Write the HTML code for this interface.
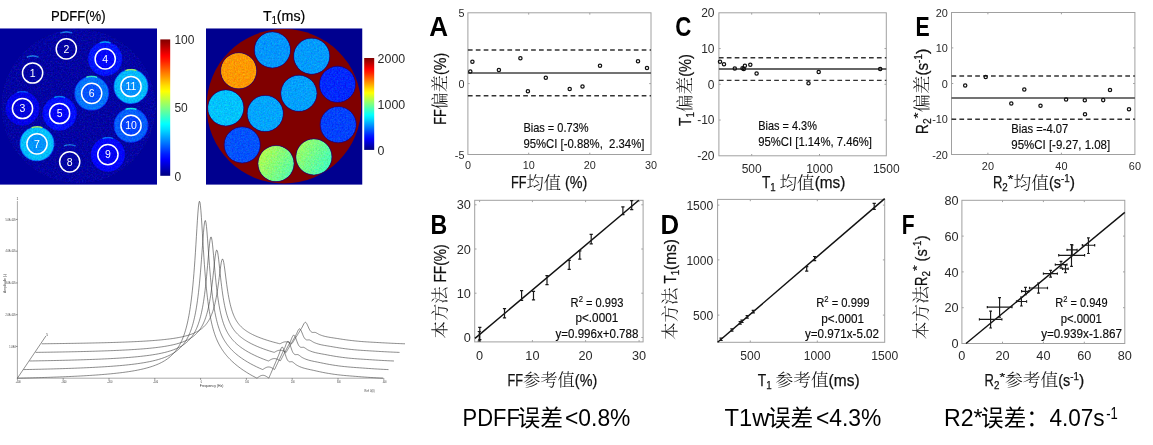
<!DOCTYPE html>
<html lang="zh"><head><meta charset="utf-8"><title>Phantom validation</title>
<style>html,body{margin:0;padding:0;background:#fff;}body{width:1153px;height:445px;overflow:hidden;}svg{display:block;}text{font-family:"Liberation Sans", "Noto Sans CJK SC", sans-serif;fill:#262626;}.tk{fill:#2a2a2a;}.ann{font-size:12.2px;fill:#0a0a0a;stroke:#0a0a0a;stroke-width:0.15px;}.lat{fill:#111;stroke:#111;stroke-width:0.25px;}.cjk{font-family:"Liberation Sans","Noto Serif CJK SC",serif;font-weight:300;fill:#111;}.big{fill:#000;}.bigc{font-family:"Liberation Sans","Noto Sans CJK SC",sans-serif;fill:#000;}.pl{font-weight:bold;fill:#000;}.tiny{font-size:3.2px;fill:#333;}</style></head><body>
<svg width="1153" height="445" viewBox="0 0 1153 445">
<rect x="0" y="0" width="1153" height="445" fill="#ffffff"/>
<defs>
<linearGradient id="jet" x1="0" y1="1" x2="0" y2="0"><stop offset="0" stop-color="#000080"/><stop offset="0.03" stop-color="#00009f"/><stop offset="0.06" stop-color="#0000bf"/><stop offset="0.09" stop-color="#0000df"/><stop offset="0.12" stop-color="#0000ff"/><stop offset="0.16" stop-color="#0020ff"/><stop offset="0.19" stop-color="#0040ff"/><stop offset="0.22" stop-color="#0060ff"/><stop offset="0.25" stop-color="#0080ff"/><stop offset="0.28" stop-color="#009fff"/><stop offset="0.31" stop-color="#00bfff"/><stop offset="0.34" stop-color="#00dfff"/><stop offset="0.38" stop-color="#00ffff"/><stop offset="0.41" stop-color="#20ffdf"/><stop offset="0.44" stop-color="#40ffbf"/><stop offset="0.47" stop-color="#60ff9f"/><stop offset="0.5" stop-color="#80ff80"/><stop offset="0.53" stop-color="#9fff60"/><stop offset="0.56" stop-color="#bfff40"/><stop offset="0.59" stop-color="#dfff20"/><stop offset="0.62" stop-color="#ffff00"/><stop offset="0.66" stop-color="#ffdf00"/><stop offset="0.69" stop-color="#ffbf00"/><stop offset="0.72" stop-color="#ff9f00"/><stop offset="0.75" stop-color="#ff8000"/><stop offset="0.78" stop-color="#ff6000"/><stop offset="0.81" stop-color="#ff4000"/><stop offset="0.84" stop-color="#ff2000"/><stop offset="0.88" stop-color="#ff0000"/><stop offset="0.91" stop-color="#df0000"/><stop offset="0.94" stop-color="#bf0000"/><stop offset="0.97" stop-color="#9f0000"/><stop offset="1" stop-color="#800000"/></linearGradient>
<clipPath id="cpP"><rect x="0" y="28.3" width="157" height="156.5"/></clipPath>
<clipPath id="cpT"><rect x="206" y="28.3" width="156.5" height="156.5"/></clipPath>
<filter id="nz" x="-2%" y="-2%" width="104%" height="104%" color-interpolation-filters="sRGB"><feTurbulence type="fractalNoise" baseFrequency="0.62" numOctaves="2" seed="7" result="n"/><feColorMatrix in="n" type="matrix" values="1 0 0 0 0  0 1 0 0 0  0 0 1 0 0  0 0 0 0 1" result="n1"/><feComposite in="SourceGraphic" in2="n1" operator="arithmetic" k1="0" k2="1" k3="0.34" k4="-0.17" result="c"/><feComposite in="c" in2="SourceGraphic" operator="in"/></filter>
<linearGradient id="gv8" x1="0" y1="0.2" x2="1" y2="0.8"><stop offset="0" stop-color="#b8ff47"/><stop offset="1" stop-color="#52ffad"/></linearGradient>
<linearGradient id="gv9" x1="0" y1="0.2" x2="1" y2="0.8"><stop offset="0" stop-color="#a3ff5c"/><stop offset="1" stop-color="#3dffc2"/></linearGradient>
</defs>
<g id="pdff">
<text x="78.3" y="21.2" text-anchor="middle" font-size="15.4" textLength="54.6" lengthAdjust="spacingAndGlyphs" style="fill:#000;stroke:#000;stroke-width:0.2px">PDFF(%)</text>
<g clip-path="url(#cpP)">
<rect x="0" y="28.3" width="157" height="156.5" fill="#00009c"/>
<circle cx="78.5" cy="106.3" r="77" fill="#0000a3" stroke="#0000b8" stroke-width="0.8" filter="url(#nz)"/>
<g filter="url(#nz)">
<circle cx="32.6" cy="73" r="15.6" fill="none" stroke="#0000e0" stroke-width="3" opacity="0.55"/>
<path d="M26.6 57.1 a17 17 0 0 1 12 0" fill="none" stroke="#1e8cff" stroke-width="1.7" opacity="0.9"/>
<circle cx="66.3" cy="48.9" r="15.6" fill="none" stroke="#0000e0" stroke-width="3" opacity="0.55"/>
<path d="M60.3 33 a17 17 0 0 1 12 0" fill="none" stroke="#1e8cff" stroke-width="1.7" opacity="0.9"/>
<circle cx="22.5" cy="108.5" r="17.5" fill="#0000e9"/>
<circle cx="22.5" cy="108.5" r="10.5" fill="#0000d7" opacity="0.8"/>
<circle cx="22.5" cy="108.5" r="17.3" fill="none" stroke="#0000b1" stroke-width="1.5" opacity="0.5"/>
<path d="M17 92.4 a17 17 0 0 1 11 0" fill="none" stroke="#005dff" stroke-width="1.6" opacity="0.85"/>
<circle cx="105.2" cy="58.9" r="17.5" fill="#0016ff"/>
<circle cx="105.2" cy="58.9" r="10.5" fill="#0000fb" opacity="0.8"/>
<circle cx="105.2" cy="58.9" r="17.3" fill="none" stroke="#0000c6" stroke-width="1.5" opacity="0.5"/>
<path d="M99.7 42.8 a17 17 0 0 1 11 0" fill="none" stroke="#00a3ff" stroke-width="1.6" opacity="0.85"/>
<circle cx="59.6" cy="113.5" r="17.5" fill="#000fff"/>
<circle cx="59.6" cy="113.5" r="10.5" fill="#0000f6" opacity="0.8"/>
<circle cx="59.6" cy="113.5" r="17.3" fill="none" stroke="#0000c3" stroke-width="1.5" opacity="0.5"/>
<path d="M54.1 97.4 a17 17 0 0 1 11 0" fill="none" stroke="#0098ff" stroke-width="1.6" opacity="0.85"/>
<circle cx="91.7" cy="93.3" r="17.5" fill="#0074ff"/>
<circle cx="91.7" cy="93.3" r="10.5" fill="#004aff" opacity="0.8"/>
<circle cx="91.7" cy="93.3" r="17.3" fill="none" stroke="#0000f2" stroke-width="1.5" opacity="0.5"/>
<path d="M86.2 77.2 a17 17 0 0 1 11 0" fill="none" stroke="#3bffc4" stroke-width="1.6" opacity="0.85"/>
<circle cx="37" cy="143.8" r="17.5" fill="#00bfff"/>
<circle cx="37" cy="143.8" r="10.5" fill="#0089ff" opacity="0.8"/>
<circle cx="37" cy="143.8" r="17.3" fill="none" stroke="#0017ff" stroke-width="1.5" opacity="0.5"/>
<path d="M31.5 127.7 a17 17 0 0 1 11 0" fill="none" stroke="#b4ff4b" stroke-width="1.6" opacity="0.85"/>
<circle cx="69.7" cy="161.8" r="15.6" fill="none" stroke="#0000e0" stroke-width="3" opacity="0.55"/>
<path d="M63.7 145.9 a17 17 0 0 1 12 0" fill="none" stroke="#1e8cff" stroke-width="1.7" opacity="0.9"/>
<circle cx="107.9" cy="154.6" r="17.5" fill="#0004ff"/>
<circle cx="107.9" cy="154.6" r="10.5" fill="#0000ed" opacity="0.8"/>
<circle cx="107.9" cy="154.6" r="17.3" fill="none" stroke="#0000be" stroke-width="1.5" opacity="0.5"/>
<path d="M102.4 138.5 a17 17 0 0 1 11 0" fill="none" stroke="#0087ff" stroke-width="1.6" opacity="0.85"/>
<circle cx="131" cy="125.4" r="17.5" fill="#005eff"/>
<circle cx="131" cy="125.4" r="10.5" fill="#0039ff" opacity="0.8"/>
<circle cx="131" cy="125.4" r="17.3" fill="none" stroke="#0000e8" stroke-width="1.5" opacity="0.5"/>
<path d="M125.5 109.3 a17 17 0 0 1 11 0" fill="none" stroke="#18ffe7" stroke-width="1.6" opacity="0.85"/>
<circle cx="131" cy="86.5" r="17.5" fill="#00baff"/>
<circle cx="131" cy="86.5" r="10.5" fill="#0085ff" opacity="0.8"/>
<circle cx="131" cy="86.5" r="17.3" fill="none" stroke="#0014ff" stroke-width="1.5" opacity="0.5"/>
<path d="M125.5 70.4 a17 17 0 0 1 11 0" fill="none" stroke="#abff54" stroke-width="1.6" opacity="0.85"/>
</g>
<circle cx="32.6" cy="73" r="10.1" fill="none" stroke="#ffffff" stroke-width="1.5"/>
<text x="32.6" y="76.7" text-anchor="middle" font-size="10.5" fill="#ffffff" style="fill:#fff">1</text>
<circle cx="66.3" cy="48.9" r="10.1" fill="none" stroke="#ffffff" stroke-width="1.5"/>
<text x="66.3" y="52.6" text-anchor="middle" font-size="10.5" fill="#ffffff" style="fill:#fff">2</text>
<circle cx="22.5" cy="108.5" r="10.1" fill="none" stroke="#ffffff" stroke-width="1.5"/>
<text x="22.5" y="112.2" text-anchor="middle" font-size="10.5" fill="#ffffff" style="fill:#fff">3</text>
<circle cx="105.2" cy="58.9" r="10.1" fill="none" stroke="#ffffff" stroke-width="1.5"/>
<text x="105.2" y="62.6" text-anchor="middle" font-size="10.5" fill="#ffffff" style="fill:#fff">4</text>
<circle cx="59.6" cy="113.5" r="10.1" fill="none" stroke="#ffffff" stroke-width="1.5"/>
<text x="59.6" y="117.2" text-anchor="middle" font-size="10.5" fill="#ffffff" style="fill:#fff">5</text>
<circle cx="91.7" cy="93.3" r="10.1" fill="none" stroke="#ffffff" stroke-width="1.5"/>
<text x="91.7" y="97" text-anchor="middle" font-size="10.5" fill="#ffffff" style="fill:#fff">6</text>
<circle cx="37" cy="143.8" r="10.1" fill="none" stroke="#ffffff" stroke-width="1.5"/>
<text x="37" y="147.5" text-anchor="middle" font-size="10.5" fill="#ffffff" style="fill:#fff">7</text>
<circle cx="69.7" cy="161.8" r="10.1" fill="none" stroke="#ffffff" stroke-width="1.5"/>
<text x="69.7" y="165.5" text-anchor="middle" font-size="10.5" fill="#ffffff" style="fill:#fff">8</text>
<circle cx="107.9" cy="154.6" r="10.1" fill="none" stroke="#ffffff" stroke-width="1.5"/>
<text x="107.9" y="158.3" text-anchor="middle" font-size="10.5" fill="#ffffff" style="fill:#fff">9</text>
<circle cx="131" cy="125.4" r="10.1" fill="none" stroke="#ffffff" stroke-width="1.5"/>
<text x="131" y="129.1" text-anchor="middle" font-size="10.5" fill="#ffffff" style="fill:#fff">10</text>
<circle cx="131" cy="86.5" r="10.1" fill="none" stroke="#ffffff" stroke-width="1.5"/>
<text x="131" y="90.2" text-anchor="middle" font-size="10.5" fill="#ffffff" style="fill:#fff">11</text>
</g>
<rect x="160.3" y="39.4" width="9.9" height="136.4" fill="url(#jet)"/>
<text class="tk" x="174.4" y="44.4" font-size="12">100</text>
<text class="tk" x="174.4" y="112.3" font-size="12">50</text>
<text class="tk" x="174.4" y="180.5" font-size="12">0</text>
</g>
<g id="t1map">
<text x="263" y="21.2" font-size="15.4" textLength="42.3" lengthAdjust="spacingAndGlyphs" style="fill:#000;stroke:#000;stroke-width:0.2px">T<tspan dy="2.8" font-size="10">1</tspan><tspan dy="-2.8">(ms)</tspan></text>
<g clip-path="url(#cpT)">
<rect x="206" y="28.3" width="156.5" height="156.5" fill="#00008f"/>
<circle cx="283.9" cy="106.3" r="77.3" fill="#800000"/>
<g filter="url(#nz)">
<circle cx="238.7" cy="70.8" r="18" fill="#ff9900"/>
<circle cx="272.4" cy="49.9" r="18" fill="#0096ff"/>
<circle cx="225.8" cy="107.9" r="18" fill="#00c2ff"/>
<circle cx="311.7" cy="56.2" r="18" fill="#009bff"/>
<circle cx="265.2" cy="113.5" r="18" fill="#00a5ff"/>
<circle cx="298.9" cy="93.3" r="18" fill="#00a0ff"/>
<circle cx="242.2" cy="144.9" r="18" fill="#0052ff"/>
<circle cx="276" cy="163.6" r="18" fill="url(#gv8)"/>
<circle cx="313.9" cy="156.9" r="18" fill="url(#gv9)"/>
<circle cx="338.2" cy="124.7" r="18" fill="#0042ff"/>
<circle cx="337.5" cy="84.3" r="18" fill="#0029ff"/>
</g>
<circle cx="238.7" cy="70.8" r="18.1" fill="none" stroke="#0000a8" stroke-width="0.7" opacity="0.75"/>
<circle cx="272.4" cy="49.9" r="18.1" fill="none" stroke="#0000a8" stroke-width="0.7" opacity="0.75"/>
<circle cx="225.8" cy="107.9" r="18.1" fill="none" stroke="#0000a8" stroke-width="0.7" opacity="0.75"/>
<circle cx="311.7" cy="56.2" r="18.1" fill="none" stroke="#0000a8" stroke-width="0.7" opacity="0.75"/>
<circle cx="265.2" cy="113.5" r="18.1" fill="none" stroke="#0000a8" stroke-width="0.7" opacity="0.75"/>
<circle cx="298.9" cy="93.3" r="18.1" fill="none" stroke="#0000a8" stroke-width="0.7" opacity="0.75"/>
<circle cx="242.2" cy="144.9" r="18.1" fill="none" stroke="#0000a8" stroke-width="0.7" opacity="0.75"/>
<circle cx="276" cy="163.6" r="18.1" fill="none" stroke="#0000a8" stroke-width="0.7" opacity="0.75"/>
<circle cx="313.9" cy="156.9" r="18.1" fill="none" stroke="#0000a8" stroke-width="0.7" opacity="0.75"/>
<circle cx="338.2" cy="124.7" r="18.1" fill="none" stroke="#0000a8" stroke-width="0.7" opacity="0.75"/>
<circle cx="337.5" cy="84.3" r="18.1" fill="none" stroke="#0000a8" stroke-width="0.7" opacity="0.75"/>
</g>
<rect x="364.2" y="58" width="10" height="91.9" fill="url(#jet)"/>
<text class="tk" x="377.6" y="62.9" font-size="12.4">2000</text>
<text class="tk" x="377.6" y="108.8" font-size="12.4">1000</text>
<text class="tk" x="377.6" y="155.1" font-size="12.4">0</text>
</g>
<g id="spec" fill="none" stroke="#383838" stroke-width="0.58">
<path d="M17.4 201 V378.2 H383.5" stroke="#555" stroke-width="0.5"/>
<path d="M17.4 378.2 L45.9 336" stroke="#444" stroke-width="0.6"/>
<path d="M17.4 378.2 v1.6 M63.2 378.2 v1.6 M109 378.2 v1.6 M154.8 378.2 v1.6 M200.6 378.2 v1.6 M246.4 378.2 v1.6 M292.2 378.2 v1.6 M338 378.2 v1.6 M383.8 378.2 v1.6 M17.4 346.45 h-1.6 M17.4 314.7 h-1.6 M17.4 282.95 h-1.6 M17.4 251.2 h-1.6 M17.4 219.45 h-1.6" stroke="#444" stroke-width="0.6"/>
<path d="M17.4 378.2 L18.9 378.17 L20.4 378.13 L21.9 378.09 L23.4 378.06 L24.9 378.02 L26.4 377.98 L27.9 377.94 L29.4 377.91 L30.9 377.87 L32.4 377.83 L33.9 377.78 L35.4 377.74 L36.9 377.7 L38.4 377.66 L39.9 377.61 L41.4 377.57 L42.9 377.52 L44.4 377.47 L45.9 377.43 L47.4 377.38 L48.9 377.33 L50.4 377.28 L51.9 377.22 L53.4 377.17 L54.9 377.12 L56.4 377.06 L57.9 377.01 L59.4 376.95 L60.9 376.89 L62.4 376.83 L63.9 376.77 L65.4 376.71 L66.9 376.64 L68.4 376.58 L69.9 376.51 L71.4 376.44 L72.9 376.37 L74.4 376.3 L75.9 376.22 L77.4 376.15 L78.9 376.07 L80.4 375.99 L81.9 375.91 L83.4 375.83 L84.9 375.74 L86.4 375.65 L87.9 375.56 L89.4 375.47 L90.9 375.38 L92.4 375.28 L93.9 375.18 L95.4 375.07 L96.9 374.97 L98.4 374.86 L99.9 374.74 L101.4 374.63 L102.9 374.51 L104.4 374.38 L105.9 374.26 L107.4 374.12 L108.9 373.99 L110.4 373.85 L111.9 373.7 L113.4 373.55 L114.9 373.39 L116.4 373.23 L117.9 373.06 L119.4 372.89 L120.9 372.71 L122.4 372.52 L123.9 372.33 L125.4 372.12 L126.9 371.91 L128.4 371.69 L129.9 371.46 L131.4 371.22 L132.9 370.97 L134.4 370.71 L135.9 370.44 L137.4 370.15 L138.9 369.85 L140.4 369.53 L141.9 369.2 L143.4 368.85 L144.9 368.48 L146.4 368.09 L147.9 367.68 L149.4 367.24 L150.9 366.78 L152.4 366.29 L153.9 365.76 L155.4 365.2 L156.9 364.6 L158.4 363.96 L159.9 363.27 L161.4 362.53 L162.9 361.72 L164.4 360.85 L165.9 359.91 L167.4 358.87 L168.9 357.74 L170.4 356.5 L170.9 356.05 L171.4 355.6 L171.9 355.12 L172.4 354.63 L172.9 354.12 L173.4 353.59 L173.9 353.05 L174.4 352.48 L174.9 351.89 L175.4 351.27 L175.9 350.63 L176.4 349.97 L176.9 349.27 L177.4 348.55 L177.9 347.8 L178.4 347.01 L178.9 346.18 L179.4 345.32 L179.9 344.42 L180.4 343.47 L180.9 342.47 L181.4 341.42 L181.9 340.32 L182.4 339.16 L182.9 337.94 L183.4 336.64 L183.9 335.28 L184.4 333.83 L184.9 332.29 L185.4 330.66 L185.9 328.92 L186.4 327.06 L186.9 325.08 L187.4 322.97 L187.9 320.7 L188.4 318.26 L188.9 315.64 L189.4 312.81 L189.9 309.76 L190.4 306.45 L190.9 302.87 L191.4 298.98 L191.9 294.74 L192.4 290.13 L192.9 285.11 L193.4 279.63 L193.9 273.67 L194.4 267.2 L194.9 260.22 L195.4 252.73 L195.9 244.82 L196.4 236.61 L196.9 228.33 L197.4 220.33 L197.9 213.07 L198.4 207.11 L198.9 203.02 L199.4 201.25 L199.9 202.02 L200.4 205.22 L200.9 210.5 L201.4 217.31 L201.9 225.07 L202.4 233.29 L202.9 241.56 L203.4 249.61 L203.9 257.28 L204.4 264.47 L204.9 271.15 L205.4 277.31 L205.9 282.97 L206.4 288.17 L206.9 292.95 L207.4 297.33 L207.9 301.35 L208.4 305.06 L208.9 308.47 L209.4 311.62 L209.9 314.53 L210.4 317.23 L210.9 319.74 L211.4 322.08 L211.9 324.25 L212.4 326.29 L212.9 328.19 L213.4 329.97 L213.9 331.65 L214.4 333.22 L214.9 334.71 L215.4 336.11 L215.9 337.43 L216.4 338.68 L216.9 339.87 L217.4 340.99 L217.9 342.06 L218.4 343.08 L218.9 344.06 L219.4 345.01 L219.9 345.91 L220.4 346.78 L220.9 347.62 L221.4 348.44 L221.9 349.22 L222.4 349.98 L222.9 350.72 L223.4 351.43 L223.9 352.13 L224.4 352.8 L224.9 353.46 L225.4 354.1 L225.9 354.72 L226.4 355.32 L226.9 355.92 L227.4 356.49 L227.9 357.06 L228.4 357.61 L228.9 358.15 L229.4 358.68 L229.9 359.19 L231.4 360.68 L232.9 362.09 L234.4 363.43 L235.9 364.7 L237.4 365.91 L238.9 367.07 L240.4 368.19 L241.9 369.26 L243.4 370.29 L244.9 371.28 L246.4 372.24 L247.9 373.17 L249.4 374.07 L250.9 374.94 L252.4 375.78 L253.9 376.59 L255.4 377.38 L255.9 377.64 L256.4 377.9 L256.9 378.15 L257.4 377.89 L257.9 377.51 L258.4 377.14 L258.9 376.79 L259.4 376.47 L259.9 376.18 L260.4 375.92 L260.9 375.7 L261.4 375.53 L261.9 375.4 L262.4 375.33 L262.9 375.3 L263.4 375.33 L263.9 375.4 L264.4 375.53 L264.9 375.7 L265.4 375.92 L265.9 376.18 L266.4 376.47 L266.9 376.79 L267.4 377.14 L267.9 377.51 L268.4 377.89 L268.9 377.97 L269.4 376.81 L269.9 375.65 L270.4 374.49 L270.9 373.33 L271.4 372.17 L271.9 371 L272.4 369.83 L272.9 368.66 L273.4 367.49 L273.9 366.32 L274.4 365.15 L274.9 363.97 L275.4 362.8 L275.9 361.61 L276.4 360.43 L276.9 359.25 L277.4 358.09 L277.9 356.91 L278.4 355.71 L278.9 354.47 L279.4 353.16 L279.9 351.65 L280.4 350.14 L280.9 348.89 L281.4 347.93 L281.9 347.16 L282.4 347.07 L282.9 347.69 L283.4 348.6 L283.9 349.82 L284.4 351.42 L284.9 353.01 L285.4 354.65 L285.9 356.29 L286.4 357.7 L286.9 358.89 L287.4 359.92 L287.9 360.61 L288.4 361.13 L288.9 361.54 L289.4 361.78 L289.9 361.79 L290.4 361.77 L290.9 361.74 L291.4 361.71 L291.9 361.71 L292.4 361.87 L292.9 362.2 L293.4 362.58 L293.9 362.94 L294.4 363.34 L294.9 363.77 L295.4 364.21 L295.9 364.6 L296.4 364.92 L296.9 365.22 L297.4 365.5 L297.9 365.77 L298.4 366.02 L298.9 366.27 L299.4 366.5 L299.9 366.72 L301.4 367.32 L302.9 367.83 L304.4 368.27 L305.9 368.67 L307.4 369.03 L308.9 369.36 L310.4 369.69 L311.9 370.01 L313.4 370.33 L314.9 370.67 L316.4 371.01 L317.9 371.34 L319.4 371.67 L320.9 371.99 L322.4 372.3 L323.9 372.6 L325.4 372.88 L326.9 373.15 L328.4 373.4 L329.9 373.65 L331.4 373.89 L332.9 374.11 L334.4 374.33 L335.9 374.53 L337.4 374.73 L338.9 374.9 L340.4 375.06 L341.9 375.22 L343.4 375.36 L344.9 375.5 L346.4 375.63 L347.9 375.76 L349.4 375.88 L350.9 376 L352.4 376.12 L353.9 376.24 L355.4 376.36 L356.9 376.48 L358.4 376.6 L359.9 376.71 L361.4 376.83 L362.9 376.95 L364.4 377.06 L365.9 377.17 L367.4 377.28 L368.9 377.38 L370.4 377.48 L371.9 377.58 L373.4 377.67 L374.9 377.76 L376.4 377.85 L377.9 377.94 L379.4 378.02 L380.9 378.1 L382.4 378.17 L383 378.2"/>
<path d="M23.48 369.59 L24.98 369.56 L26.48 369.53 L27.98 369.5 L29.48 369.47 L30.98 369.44 L32.48 369.41 L33.98 369.38 L35.48 369.34 L36.98 369.31 L38.48 369.28 L39.98 369.24 L41.48 369.21 L42.98 369.17 L44.48 369.13 L45.98 369.1 L47.48 369.06 L48.98 369.02 L50.48 368.98 L51.98 368.94 L53.48 368.9 L54.98 368.85 L56.48 368.81 L57.98 368.77 L59.48 368.72 L60.98 368.68 L62.48 368.63 L63.98 368.58 L65.48 368.53 L66.98 368.48 L68.48 368.43 L69.98 368.38 L71.48 368.33 L72.98 368.27 L74.48 368.22 L75.98 368.16 L77.48 368.1 L78.98 368.04 L80.48 367.98 L81.98 367.92 L83.48 367.86 L84.98 367.79 L86.48 367.72 L87.98 367.66 L89.48 367.58 L90.98 367.51 L92.48 367.44 L93.98 367.36 L95.48 367.28 L96.98 367.2 L98.48 367.12 L99.98 367.03 L101.48 366.95 L102.98 366.85 L104.48 366.76 L105.98 366.67 L107.48 366.57 L108.98 366.46 L110.48 366.36 L111.98 366.25 L113.48 366.14 L114.98 366.02 L116.48 365.9 L117.98 365.78 L119.48 365.65 L120.98 365.52 L122.48 365.38 L123.98 365.24 L125.48 365.09 L126.98 364.94 L128.48 364.78 L129.98 364.61 L131.48 364.44 L132.98 364.26 L134.48 364.07 L135.98 363.88 L137.48 363.67 L138.98 363.46 L140.48 363.24 L141.98 363.01 L143.48 362.76 L144.98 362.5 L146.48 362.23 L147.98 361.95 L149.48 361.65 L150.98 361.34 L152.48 361 L153.98 360.65 L155.48 360.28 L156.98 359.88 L158.48 359.46 L159.98 359.01 L161.48 358.53 L162.98 358.02 L164.48 357.47 L165.98 356.88 L167.48 356.24 L168.98 355.55 L170.48 354.81 L171.98 353.99 L173.48 353.11 L174.98 352.13 L176.48 351.06 L176.98 350.68 L177.48 350.28 L177.98 349.87 L178.48 349.45 L178.98 349.01 L179.48 348.56 L179.98 348.08 L180.48 347.59 L180.98 347.08 L181.48 346.55 L181.98 346 L182.48 345.42 L182.98 344.82 L183.48 344.19 L183.98 343.54 L184.48 342.85 L184.98 342.14 L185.48 341.39 L185.98 340.6 L186.48 339.77 L186.98 338.91 L187.48 337.99 L187.98 337.03 L188.48 336.02 L188.98 334.95 L189.48 333.82 L189.98 332.62 L190.48 331.35 L190.98 330 L191.48 328.57 L191.98 327.04 L192.48 325.41 L192.98 323.66 L193.48 321.79 L193.98 319.79 L194.48 317.63 L194.98 315.31 L195.48 312.81 L195.98 310.09 L196.48 307.16 L196.98 303.97 L197.48 300.5 L197.98 296.72 L198.48 292.61 L198.98 288.13 L199.48 283.24 L199.98 277.94 L200.48 272.2 L200.98 266.03 L201.48 259.47 L201.98 252.62 L202.48 245.63 L202.98 238.77 L203.48 232.39 L203.98 226.94 L204.48 222.9 L204.98 220.71 L205.48 220.63 L205.98 222.66 L206.48 226.56 L206.98 231.91 L207.48 238.23 L207.98 245.07 L208.48 252.06 L208.98 258.93 L209.48 265.52 L209.98 271.72 L210.48 277.5 L210.98 282.84 L211.48 287.75 L211.98 292.27 L212.48 296.41 L212.98 300.21 L213.48 303.7 L213.98 306.91 L214.48 309.87 L214.98 312.6 L215.48 315.12 L215.98 317.45 L216.48 319.62 L216.98 321.64 L217.48 323.52 L217.98 325.27 L218.48 326.91 L218.98 328.45 L219.48 329.89 L219.98 331.24 L220.48 332.52 L220.98 333.72 L221.48 334.86 L221.98 335.94 L222.48 336.95 L222.98 337.92 L223.48 338.83 L223.98 339.71 L224.48 340.55 L224.98 341.35 L225.48 342.13 L225.98 342.87 L226.48 343.59 L226.98 344.28 L227.48 344.95 L227.98 345.6 L228.48 346.23 L228.98 346.84 L229.48 347.43 L229.98 348 L230.48 348.56 L230.98 349.1 L231.48 349.63 L231.98 350.14 L232.48 350.65 L232.98 351.14 L233.48 351.62 L233.98 352.09 L234.48 352.54 L234.98 352.99 L235.48 353.43 L236.98 354.7 L238.48 355.89 L239.98 357.02 L241.48 358.1 L242.98 359.13 L244.48 360.11 L245.98 361.06 L247.48 361.96 L248.98 362.84 L250.48 363.68 L251.98 364.49 L253.48 365.27 L254.98 366.03 L256.48 366.77 L257.98 367.48 L259.48 368.17 L260.98 368.84 L261.48 369.06 L261.98 369.27 L262.48 369.49 L262.98 369.44 L263.48 369.09 L263.98 368.75 L264.48 368.42 L264.98 368.12 L265.48 367.84 L265.98 367.6 L266.48 367.38 L266.98 367.21 L267.48 367.08 L267.98 367 L268.48 366.96 L268.98 366.97 L269.48 367.02 L269.98 367.12 L270.48 367.26 L270.98 367.45 L271.48 367.67 L271.98 367.93 L272.48 368.22 L272.98 368.53 L273.48 368.86 L273.98 369.2 L274.48 369.55 L274.98 368.76 L275.48 367.7 L275.98 366.64 L276.48 365.58 L276.98 364.52 L277.48 363.46 L277.98 362.4 L278.48 361.33 L278.98 360.26 L279.48 359.2 L279.98 358.13 L280.48 357.06 L280.98 355.98 L281.48 354.9 L281.98 353.82 L282.48 352.75 L282.98 351.68 L283.48 350.61 L283.98 349.53 L284.48 348.41 L284.98 347.26 L285.48 345.95 L285.98 344.54 L286.48 343.28 L286.98 342.35 L287.48 341.53 L287.98 341.15 L288.48 341.49 L288.98 342.27 L289.48 343.21 L289.98 344.58 L290.48 346.06 L290.98 347.51 L291.48 349.03 L291.98 350.43 L292.48 351.57 L292.98 352.58 L293.48 353.35 L293.98 353.85 L294.48 354.27 L294.98 354.56 L295.48 354.64 L295.98 354.63 L296.48 354.6 L296.98 354.57 L297.48 354.55 L297.98 354.63 L298.48 354.88 L298.98 355.22 L299.48 355.56 L299.98 355.89 L300.48 356.28 L300.98 356.68 L301.48 357.06 L301.98 357.38 L302.48 357.65 L302.98 357.92 L303.48 358.17 L303.98 358.41 L304.48 358.63 L304.98 358.85 L305.48 359.06 L306.98 359.62 L308.48 360.09 L309.98 360.5 L311.48 360.87 L312.98 361.2 L314.48 361.51 L315.98 361.81 L317.48 362.1 L318.98 362.4 L320.48 362.7 L321.98 363.01 L323.48 363.32 L324.98 363.62 L326.48 363.91 L327.98 364.2 L329.48 364.47 L330.98 364.73 L332.48 364.98 L333.98 365.21 L335.48 365.44 L336.98 365.65 L338.48 365.86 L339.98 366.06 L341.48 366.25 L342.98 366.42 L344.48 366.58 L345.98 366.73 L347.48 366.87 L348.98 367.01 L350.48 367.13 L351.98 367.26 L353.48 367.37 L354.98 367.49 L356.48 367.6 L357.98 367.7 L359.48 367.81 L360.98 367.92 L362.48 368.03 L363.98 368.14 L365.48 368.24 L366.98 368.35 L368.48 368.46 L369.98 368.56 L371.48 368.66 L372.98 368.76 L374.48 368.86 L375.98 368.95 L377.48 369.04 L378.98 369.12 L380.48 369.21 L381.98 369.29 L383.48 369.36 L384.98 369.44 L386.48 369.51 L387.98 369.58 L388.5 369.6"/>
<path d="M29.56 360.99 L31.06 360.96 L32.56 360.94 L34.06 360.91 L35.56 360.89 L37.06 360.86 L38.56 360.84 L40.06 360.81 L41.56 360.78 L43.06 360.75 L44.56 360.72 L46.06 360.7 L47.56 360.67 L49.06 360.64 L50.56 360.6 L52.06 360.57 L53.56 360.54 L55.06 360.51 L56.56 360.48 L58.06 360.44 L59.56 360.41 L61.06 360.37 L62.56 360.34 L64.06 360.3 L65.56 360.26 L67.06 360.22 L68.56 360.19 L70.06 360.15 L71.56 360.1 L73.06 360.06 L74.56 360.02 L76.06 359.98 L77.56 359.93 L79.06 359.89 L80.56 359.84 L82.06 359.79 L83.56 359.74 L85.06 359.7 L86.56 359.64 L88.06 359.59 L89.56 359.54 L91.06 359.48 L92.56 359.43 L94.06 359.37 L95.56 359.31 L97.06 359.25 L98.56 359.19 L100.06 359.12 L101.56 359.06 L103.06 358.99 L104.56 358.92 L106.06 358.85 L107.56 358.78 L109.06 358.7 L110.56 358.62 L112.06 358.54 L113.56 358.46 L115.06 358.37 L116.56 358.29 L118.06 358.19 L119.56 358.1 L121.06 358 L122.56 357.9 L124.06 357.8 L125.56 357.69 L127.06 357.58 L128.56 357.47 L130.06 357.35 L131.56 357.22 L133.06 357.09 L134.56 356.96 L136.06 356.82 L137.56 356.68 L139.06 356.53 L140.56 356.37 L142.06 356.2 L143.56 356.03 L145.06 355.85 L146.56 355.67 L148.06 355.47 L149.56 355.27 L151.06 355.05 L152.56 354.82 L154.06 354.58 L155.56 354.33 L157.06 354.07 L158.56 353.79 L160.06 353.49 L161.56 353.18 L163.06 352.84 L164.56 352.49 L166.06 352.11 L167.56 351.7 L169.06 351.27 L170.56 350.81 L172.06 350.31 L173.56 349.77 L175.06 349.18 L176.56 348.55 L178.06 347.86 L179.56 347.11 L181.06 346.28 L181.56 345.99 L182.06 345.68 L182.56 345.37 L183.06 345.05 L183.56 344.71 L184.06 344.36 L184.56 344 L185.06 343.63 L185.56 343.24 L186.06 342.83 L186.56 342.41 L187.06 341.98 L187.56 341.52 L188.06 341.05 L188.56 340.56 L189.06 340.05 L189.56 339.51 L190.06 338.95 L190.56 338.36 L191.06 337.75 L191.56 337.1 L192.06 336.43 L192.56 335.72 L193.06 334.97 L193.56 334.19 L194.06 333.36 L194.56 332.49 L195.06 331.56 L195.56 330.59 L196.06 329.55 L196.56 328.45 L197.06 327.28 L197.56 326.04 L198.06 324.71 L198.56 323.29 L199.06 321.78 L199.56 320.15 L200.06 318.4 L200.56 316.52 L201.06 314.49 L201.56 312.29 L202.06 309.91 L202.56 307.34 L203.06 304.53 L203.56 301.48 L204.06 298.16 L204.56 294.54 L205.06 290.59 L205.56 286.3 L206.06 281.65 L206.56 276.63 L207.06 271.28 L207.56 265.66 L208.06 259.86 L208.56 254.09 L209.06 248.61 L209.56 243.77 L210.06 239.97 L210.56 237.59 L211.06 236.91 L211.56 238.01 L212.06 240.76 L212.56 244.85 L213.06 249.88 L213.56 255.46 L214.06 261.26 L214.56 267.03 L215.06 272.6 L215.56 277.87 L216.06 282.8 L216.56 287.36 L217.06 291.57 L217.56 295.44 L218.06 298.98 L218.56 302.24 L219.06 305.23 L219.56 307.97 L220.06 310.5 L220.56 312.83 L221.06 314.99 L221.56 316.98 L222.06 318.83 L222.56 320.55 L223.06 322.15 L223.56 323.64 L224.06 325.04 L224.56 326.35 L225.06 327.57 L225.56 328.72 L226.06 329.8 L226.56 330.83 L227.06 331.79 L227.56 332.7 L228.06 333.56 L228.56 334.38 L229.06 335.16 L229.56 335.89 L230.06 336.6 L230.56 337.28 L231.06 337.93 L231.56 338.56 L232.06 339.16 L232.56 339.75 L233.06 340.31 L233.56 340.86 L234.06 341.38 L234.56 341.89 L235.06 342.39 L235.56 342.87 L236.06 343.34 L236.56 343.8 L237.06 344.24 L237.56 344.67 L238.06 345.09 L238.56 345.51 L239.06 345.91 L239.56 346.3 L240.06 346.68 L240.56 347.06 L241.06 347.43 L242.56 348.49 L244.06 349.49 L245.56 350.44 L247.06 351.34 L248.56 352.2 L250.06 353.02 L251.56 353.81 L253.06 354.56 L254.56 355.29 L256.06 356 L257.56 356.67 L259.06 357.33 L260.56 357.96 L262.06 358.58 L263.56 359.17 L265.06 359.74 L266.56 360.3 L267.06 360.49 L267.56 360.67 L268.06 360.84 L268.56 360.96 L269.06 360.64 L269.56 360.33 L270.06 360.03 L270.56 359.74 L271.06 359.48 L271.56 359.25 L272.06 359.04 L272.56 358.87 L273.06 358.74 L273.56 358.65 L274.06 358.6 L274.56 358.59 L275.06 358.63 L275.56 358.7 L276.06 358.82 L276.56 358.98 L277.06 359.17 L277.56 359.39 L278.06 359.65 L278.56 359.92 L279.06 360.22 L279.56 360.53 L280.06 360.85 L280.56 360.62 L281.06 359.65 L281.56 358.69 L282.06 357.72 L282.56 356.76 L283.06 355.79 L283.56 354.82 L284.06 353.85 L284.56 352.87 L285.06 351.9 L285.56 350.93 L286.06 349.95 L286.56 348.97 L287.06 347.99 L287.56 347.01 L288.06 346.02 L288.56 345.05 L289.06 344.07 L289.56 343.09 L290.06 342.09 L290.56 341.05 L291.06 339.93 L291.56 338.66 L292.06 337.43 L292.56 336.46 L293.06 335.67 L293.56 335.11 L294.06 335.17 L294.56 335.77 L295.06 336.54 L295.56 337.65 L296.06 339 L296.56 340.31 L297.06 341.69 L297.56 343.03 L298.06 344.15 L298.56 345.13 L299.06 345.94 L299.56 346.46 L300.06 346.88 L300.56 347.2 L301.06 347.35 L301.56 347.35 L302.06 347.33 L302.56 347.3 L303.06 347.28 L303.56 347.29 L304.06 347.47 L304.56 347.76 L305.06 348.07 L305.56 348.37 L306.06 348.71 L306.56 349.07 L307.06 349.43 L307.56 349.75 L308.06 350.01 L308.56 350.25 L309.06 350.48 L309.56 350.71 L310.06 350.92 L310.56 351.12 L311.06 351.32 L312.56 351.84 L314.06 352.28 L315.56 352.66 L317.06 353 L318.56 353.31 L320.06 353.59 L321.56 353.86 L323.06 354.13 L324.56 354.4 L326.06 354.68 L327.56 354.97 L329.06 355.25 L330.56 355.52 L332.06 355.79 L333.56 356.05 L335.06 356.3 L336.56 356.54 L338.06 356.77 L339.56 356.98 L341.06 357.19 L342.56 357.39 L344.06 357.58 L345.56 357.76 L347.06 357.94 L348.56 358.1 L350.06 358.24 L351.56 358.38 L353.06 358.51 L354.56 358.63 L356.06 358.75 L357.56 358.86 L359.06 358.97 L360.56 359.07 L362.06 359.17 L363.56 359.27 L365.06 359.37 L366.56 359.47 L368.06 359.57 L369.56 359.67 L371.06 359.76 L372.56 359.86 L374.06 359.96 L375.56 360.05 L377.06 360.15 L378.56 360.24 L380.06 360.32 L381.56 360.41 L383.06 360.49 L384.56 360.57 L386.06 360.64 L387.56 360.72 L389.06 360.79 L390.56 360.85 L392.06 360.92 L393.56 360.98 L394 361"/>
<path d="M35.64 352.39 L37.14 352.37 L38.64 352.35 L40.14 352.32 L41.64 352.3 L43.14 352.28 L44.64 352.26 L46.14 352.24 L47.64 352.21 L49.14 352.19 L50.64 352.17 L52.14 352.14 L53.64 352.12 L55.14 352.09 L56.64 352.07 L58.14 352.04 L59.64 352.02 L61.14 351.99 L62.64 351.96 L64.14 351.93 L65.64 351.9 L67.14 351.88 L68.64 351.85 L70.14 351.82 L71.64 351.78 L73.14 351.75 L74.64 351.72 L76.14 351.69 L77.64 351.65 L79.14 351.62 L80.64 351.58 L82.14 351.55 L83.64 351.51 L85.14 351.47 L86.64 351.44 L88.14 351.4 L89.64 351.36 L91.14 351.31 L92.64 351.27 L94.14 351.23 L95.64 351.18 L97.14 351.14 L98.64 351.09 L100.14 351.04 L101.64 350.99 L103.14 350.94 L104.64 350.89 L106.14 350.84 L107.64 350.79 L109.14 350.73 L110.64 350.67 L112.14 350.61 L113.64 350.55 L115.14 350.49 L116.64 350.42 L118.14 350.36 L119.64 350.29 L121.14 350.22 L122.64 350.14 L124.14 350.07 L125.64 349.99 L127.14 349.91 L128.64 349.83 L130.14 349.74 L131.64 349.65 L133.14 349.56 L134.64 349.46 L136.14 349.36 L137.64 349.26 L139.14 349.15 L140.64 349.04 L142.14 348.93 L143.64 348.81 L145.14 348.68 L146.64 348.55 L148.14 348.41 L149.64 348.27 L151.14 348.12 L152.64 347.96 L154.14 347.8 L155.64 347.63 L157.14 347.45 L158.64 347.26 L160.14 347.06 L161.64 346.85 L163.14 346.63 L164.64 346.4 L166.14 346.15 L167.64 345.89 L169.14 345.61 L170.64 345.31 L172.14 344.99 L173.64 344.65 L175.14 344.29 L176.64 343.9 L178.14 343.48 L179.64 343.03 L181.14 342.54 L182.64 342.01 L184.14 341.43 L185.64 340.79 L187.14 340.1 L187.64 339.85 L188.14 339.59 L188.64 339.33 L189.14 339.05 L189.64 338.77 L190.14 338.48 L190.64 338.17 L191.14 337.85 L191.64 337.53 L192.14 337.18 L192.64 336.83 L193.14 336.46 L193.64 336.07 L194.14 335.67 L194.64 335.26 L195.14 334.82 L195.64 334.36 L196.14 333.89 L196.64 333.39 L197.14 332.87 L197.64 332.32 L198.14 331.74 L198.64 331.14 L199.14 330.5 L199.64 329.83 L200.14 329.12 L200.64 328.37 L201.14 327.58 L201.64 326.75 L202.14 325.86 L202.64 324.91 L203.14 323.91 L203.64 322.84 L204.14 321.69 L204.64 320.47 L205.14 319.16 L205.64 317.75 L206.14 316.24 L206.64 314.6 L207.14 312.84 L207.64 310.93 L208.14 308.86 L208.64 306.61 L209.14 304.17 L209.64 301.51 L210.14 298.6 L210.64 295.44 L211.14 292 L211.64 288.26 L212.14 284.23 L212.64 279.9 L213.14 275.33 L213.64 270.58 L214.14 265.79 L214.64 261.16 L215.14 256.94 L215.64 253.48 L216.14 251.09 L216.64 250.04 L217.14 250.45 L217.64 252.28 L218.14 255.31 L218.64 259.23 L219.14 263.72 L219.64 268.47 L220.14 273.25 L220.64 277.92 L221.14 282.36 L221.64 286.52 L222.14 290.39 L222.64 293.96 L223.14 297.25 L223.64 300.26 L224.14 303.03 L224.64 305.56 L225.14 307.9 L225.64 310.04 L226.14 312.02 L226.64 313.85 L227.14 315.53 L227.64 317.1 L228.14 318.55 L228.64 319.91 L229.14 321.17 L229.64 322.34 L230.14 323.45 L230.64 324.48 L231.14 325.45 L231.64 326.36 L232.14 327.22 L232.64 328.03 L233.14 328.8 L233.64 329.52 L234.14 330.21 L234.64 330.86 L235.14 331.48 L235.64 332.07 L236.14 332.64 L236.64 333.19 L237.14 333.71 L237.64 334.21 L238.14 334.7 L238.64 335.17 L239.14 335.63 L239.64 336.07 L240.14 336.49 L240.64 336.91 L241.14 337.31 L241.64 337.7 L242.14 338.08 L242.64 338.45 L243.14 338.81 L243.64 339.16 L244.14 339.5 L244.64 339.84 L245.14 340.16 L245.64 340.48 L246.14 340.79 L246.64 341.1 L247.14 341.4 L248.64 342.26 L250.14 343.08 L251.64 343.85 L253.14 344.59 L254.64 345.29 L256.14 345.96 L257.64 346.6 L259.14 347.22 L260.64 347.82 L262.14 348.39 L263.64 348.95 L265.14 349.49 L266.64 350.01 L268.14 350.51 L269.64 351 L271.14 351.47 L272.64 351.92 L273.14 352.07 L273.64 352.22 L274.14 352.37 L274.64 352.17 L275.14 351.88 L275.64 351.6 L276.14 351.34 L276.64 351.09 L277.14 350.87 L277.64 350.67 L278.14 350.51 L278.64 350.38 L279.14 350.28 L279.64 350.22 L280.14 350.2 L280.64 350.22 L281.14 350.28 L281.64 350.37 L282.14 350.5 L282.64 350.67 L283.14 350.86 L283.64 351.08 L284.14 351.33 L284.64 351.59 L285.14 351.87 L285.64 352.16 L286.14 352.4 L286.64 351.52 L287.14 350.64 L287.64 349.76 L288.14 348.88 L288.64 348 L289.14 347.12 L289.64 346.23 L290.14 345.34 L290.64 344.46 L291.14 343.57 L291.64 342.68 L292.14 341.79 L292.64 340.89 L293.14 340 L293.64 339.1 L294.14 338.21 L294.64 337.32 L295.14 336.43 L295.64 335.52 L296.14 334.59 L296.64 333.61 L297.14 332.49 L297.64 331.33 L298.14 330.33 L298.64 329.59 L299.14 328.94 L299.64 328.75 L300.14 329.13 L300.64 329.81 L301.14 330.66 L301.64 331.83 L302.14 333.06 L302.64 334.28 L303.14 335.54 L303.64 336.66 L304.14 337.58 L304.64 338.4 L305.14 338.97 L305.64 339.37 L306.14 339.71 L306.64 339.92 L307.14 339.96 L307.64 339.94 L308.14 339.92 L308.64 339.89 L309.14 339.88 L309.64 339.98 L310.14 340.21 L310.64 340.5 L311.14 340.77 L311.64 341.06 L312.14 341.39 L312.64 341.72 L313.14 342.03 L313.64 342.28 L314.14 342.51 L314.64 342.73 L315.14 342.93 L315.64 343.13 L316.14 343.32 L316.64 343.5 L317.14 343.67 L318.64 344.13 L320.14 344.52 L321.64 344.86 L323.14 345.17 L324.64 345.44 L326.14 345.7 L327.64 345.95 L329.14 346.19 L330.64 346.44 L332.14 346.7 L333.64 346.96 L335.14 347.21 L336.64 347.46 L338.14 347.71 L339.64 347.95 L341.14 348.17 L342.64 348.39 L344.14 348.59 L345.64 348.79 L347.14 348.98 L348.64 349.16 L350.14 349.33 L351.64 349.49 L353.14 349.65 L354.64 349.79 L356.14 349.92 L357.64 350.05 L359.14 350.16 L360.64 350.27 L362.14 350.38 L363.64 350.48 L365.14 350.57 L366.64 350.67 L368.14 350.76 L369.64 350.85 L371.14 350.94 L372.64 351.03 L374.14 351.12 L375.64 351.21 L377.14 351.3 L378.64 351.39 L380.14 351.48 L381.64 351.57 L383.14 351.65 L384.64 351.73 L386.14 351.81 L387.64 351.89 L389.14 351.96 L390.64 352.03 L392.14 352.1 L393.64 352.17 L395.14 352.23 L396.64 352.29 L398.14 352.35 L399.5 352.4"/>
<path d="M41.72 343.79 L43.22 343.77 L44.72 343.75 L46.22 343.73 L47.72 343.72 L49.22 343.7 L50.72 343.68 L52.22 343.66 L53.72 343.64 L55.22 343.62 L56.72 343.6 L58.22 343.58 L59.72 343.56 L61.22 343.54 L62.72 343.52 L64.22 343.5 L65.72 343.48 L67.22 343.45 L68.72 343.43 L70.22 343.41 L71.72 343.38 L73.22 343.36 L74.72 343.34 L76.22 343.31 L77.72 343.28 L79.22 343.26 L80.72 343.23 L82.22 343.2 L83.72 343.18 L85.22 343.15 L86.72 343.12 L88.22 343.09 L89.72 343.06 L91.22 343.03 L92.72 342.99 L94.22 342.96 L95.72 342.93 L97.22 342.89 L98.72 342.86 L100.22 342.82 L101.72 342.78 L103.22 342.75 L104.72 342.71 L106.22 342.67 L107.72 342.63 L109.22 342.59 L110.72 342.54 L112.22 342.5 L113.72 342.45 L115.22 342.41 L116.72 342.36 L118.22 342.31 L119.72 342.26 L121.22 342.2 L122.72 342.15 L124.22 342.1 L125.72 342.04 L127.22 341.98 L128.72 341.92 L130.22 341.85 L131.72 341.79 L133.22 341.72 L134.72 341.65 L136.22 341.58 L137.72 341.51 L139.22 341.43 L140.72 341.35 L142.22 341.27 L143.72 341.18 L145.22 341.09 L146.72 341 L148.22 340.9 L149.72 340.8 L151.22 340.7 L152.72 340.59 L154.22 340.47 L155.72 340.35 L157.22 340.23 L158.72 340.1 L160.22 339.96 L161.72 339.82 L163.22 339.67 L164.72 339.51 L166.22 339.34 L167.72 339.17 L169.22 338.98 L170.72 338.78 L172.22 338.58 L173.72 338.36 L175.22 338.12 L176.72 337.87 L178.22 337.61 L179.72 337.32 L181.22 337.02 L182.72 336.69 L184.22 336.33 L185.72 335.95 L187.22 335.54 L188.72 335.09 L190.22 334.6 L191.72 334.07 L193.22 333.48 L193.72 333.27 L194.22 333.05 L194.72 332.83 L195.22 332.59 L195.72 332.35 L196.22 332.1 L196.72 331.84 L197.22 331.58 L197.72 331.3 L198.22 331.01 L198.72 330.7 L199.22 330.39 L199.72 330.06 L200.22 329.72 L200.72 329.37 L201.22 328.99 L201.72 328.61 L202.22 328.2 L202.72 327.77 L203.22 327.33 L203.72 326.86 L204.22 326.36 L204.72 325.85 L205.22 325.3 L205.72 324.73 L206.22 324.12 L206.72 323.48 L207.22 322.8 L207.72 322.07 L208.22 321.31 L208.72 320.49 L209.22 319.63 L209.72 318.7 L210.22 317.71 L210.72 316.65 L211.22 315.51 L211.72 314.29 L212.22 312.97 L212.72 311.55 L213.22 310.01 L213.72 308.34 L214.22 306.53 L214.72 304.57 L215.22 302.42 L215.72 300.09 L216.22 297.55 L216.72 294.78 L217.22 291.77 L217.72 288.51 L218.22 285.01 L218.72 281.28 L219.22 277.39 L219.72 273.42 L220.22 269.52 L220.72 265.88 L221.22 262.77 L221.72 260.46 L222.22 259.19 L222.72 259.12 L223.22 260.25 L223.72 262.45 L224.22 265.47 L224.72 269.06 L225.22 272.94 L225.72 276.92 L226.22 280.82 L226.72 284.57 L227.22 288.1 L227.72 291.39 L228.22 294.43 L228.72 297.23 L229.22 299.8 L229.72 302.16 L230.22 304.32 L230.72 306.31 L231.22 308.13 L231.72 309.82 L232.22 311.37 L232.72 312.81 L233.22 314.14 L233.72 315.37 L234.22 316.52 L234.72 317.59 L235.22 318.59 L235.72 319.52 L236.22 320.39 L236.72 321.21 L237.22 321.99 L237.72 322.71 L238.22 323.4 L238.72 324.04 L239.22 324.65 L239.72 325.23 L240.22 325.78 L240.72 326.3 L241.22 326.8 L241.72 327.28 L242.22 327.74 L242.72 328.18 L243.22 328.6 L243.72 329.01 L244.22 329.4 L244.72 329.78 L245.22 330.15 L245.72 330.51 L246.22 330.85 L246.72 331.19 L247.22 331.52 L247.72 331.83 L248.22 332.14 L248.72 332.44 L249.22 332.74 L249.72 333.02 L250.22 333.3 L250.72 333.57 L251.22 333.84 L251.72 334.1 L252.22 334.36 L252.72 334.61 L254.22 335.32 L255.72 336 L257.22 336.65 L258.72 337.26 L260.22 337.85 L261.72 338.4 L263.22 338.94 L264.72 339.46 L266.22 339.95 L267.72 340.43 L269.22 340.89 L270.72 341.34 L272.22 341.77 L273.72 342.19 L275.22 342.59 L276.72 342.98 L278.22 343.36 L278.72 343.49 L279.22 343.61 L279.72 343.73 L280.22 343.68 L280.72 343.42 L281.22 343.16 L281.72 342.91 L282.22 342.68 L282.72 342.47 L283.22 342.28 L283.72 342.12 L284.22 341.99 L284.72 341.89 L285.22 341.83 L285.72 341.8 L286.22 341.8 L286.72 341.84 L287.22 341.92 L287.72 342.02 L288.22 342.16 L288.72 342.33 L289.22 342.53 L289.72 342.74 L290.22 342.98 L290.72 343.23 L291.22 343.49 L291.72 343.76 L292.22 343.32 L292.72 342.52 L293.22 341.72 L293.72 340.91 L294.22 340.11 L294.72 339.3 L295.22 338.5 L295.72 337.69 L296.22 336.88 L296.72 336.07 L297.22 335.26 L297.72 334.45 L298.22 333.63 L298.72 332.82 L299.22 332 L299.72 331.18 L300.22 330.37 L300.72 329.56 L301.22 328.74 L301.72 327.9 L302.22 327.03 L302.72 326.07 L303.22 325 L303.72 324.01 L304.22 323.26 L304.72 322.61 L305.22 322.23 L305.72 322.39 L306.22 322.94 L306.72 323.61 L307.22 324.59 L307.72 325.73 L308.22 326.82 L308.72 327.97 L309.22 329.06 L309.72 329.95 L310.22 330.75 L310.72 331.38 L311.22 331.78 L311.72 332.12 L312.22 332.36 L312.72 332.45 L313.22 332.45 L313.72 332.42 L314.22 332.4 L314.72 332.39 L315.22 332.42 L315.72 332.59 L316.22 332.84 L316.72 333.1 L317.22 333.35 L317.72 333.64 L318.22 333.94 L318.72 334.23 L319.22 334.49 L319.72 334.7 L320.22 334.9 L320.72 335.09 L321.22 335.28 L321.72 335.46 L322.22 335.62 L322.72 335.78 L324.22 336.21 L325.72 336.58 L327.22 336.89 L328.72 337.17 L330.22 337.43 L331.72 337.67 L333.22 337.89 L334.72 338.12 L336.22 338.35 L337.72 338.58 L339.22 338.82 L340.72 339.05 L342.22 339.28 L343.72 339.5 L345.22 339.72 L346.72 339.93 L348.22 340.13 L349.72 340.32 L351.22 340.49 L352.72 340.67 L354.22 340.83 L355.72 340.99 L357.22 341.14 L358.72 341.28 L360.22 341.42 L361.72 341.54 L363.22 341.65 L364.72 341.76 L366.22 341.86 L367.72 341.95 L369.22 342.04 L370.72 342.13 L372.22 342.22 L373.72 342.3 L375.22 342.39 L376.72 342.47 L378.22 342.55 L379.72 342.63 L381.22 342.72 L382.72 342.8 L384.22 342.88 L385.72 342.96 L387.22 343.04 L388.72 343.12 L390.22 343.19 L391.72 343.27 L393.22 343.33 L394.72 343.4 L396.22 343.47 L397.72 343.53 L399.22 343.59 L400.72 343.65 L402.22 343.7 L403.72 343.76 L405 343.8"/>
</g>
<g stroke="none">
<text class="tiny" x="9.35" y="347.55" textLength="6.25" lengthAdjust="spacingAndGlyphs">1.0E4</text>
<text class="tiny" x="5.6" y="315.8" textLength="10" lengthAdjust="spacingAndGlyphs">2.0E+005</text>
<text class="tiny" x="5.6" y="284.05" textLength="10" lengthAdjust="spacingAndGlyphs">3.0E+005</text>
<text class="tiny" x="5.6" y="252.3" textLength="10" lengthAdjust="spacingAndGlyphs">4.0E+005</text>
<text class="tiny" x="5.6" y="220.55" textLength="10" lengthAdjust="spacingAndGlyphs">5.0E+005</text>
<text class="tiny" x="15.7" y="383.4" textLength="5" lengthAdjust="spacingAndGlyphs">-400</text>
<text class="tiny" x="61.5" y="383.4" textLength="5" lengthAdjust="spacingAndGlyphs">-300</text>
<text class="tiny" x="107.3" y="383.4" textLength="5" lengthAdjust="spacingAndGlyphs">-200</text>
<text class="tiny" x="153.1" y="383.4" textLength="5" lengthAdjust="spacingAndGlyphs">-100</text>
<text class="tiny" x="200.78" y="383.4" textLength="1.25" lengthAdjust="spacingAndGlyphs">0</text>
<text class="tiny" x="245.33" y="383.4" textLength="3.75" lengthAdjust="spacingAndGlyphs">100</text>
<text class="tiny" x="291.12" y="383.4" textLength="3.75" lengthAdjust="spacingAndGlyphs">200</text>
<text class="tiny" x="336.92" y="383.4" textLength="3.75" lengthAdjust="spacingAndGlyphs">300</text>
<text class="tiny" x="382.72" y="383.4" textLength="3.75" lengthAdjust="spacingAndGlyphs">400</text>
<text class="tiny" x="16.6" y="200.4">1</text>
<text class="tiny" x="46.2" y="336.4">5</text>
<text class="tiny" x="199.8" y="386.6" textLength="23.5" lengthAdjust="spacingAndGlyphs">Frequency (Hz)</text>
<text class="tiny" x="364.6" y="391.8" textLength="10" lengthAdjust="spacingAndGlyphs">Ref: 0(0)</text>
<text class="tiny" transform="translate(5.6,293) rotate(-90)" textLength="19" lengthAdjust="spacingAndGlyphs">Amplitude (-)</text>
</g>
<g id="pA">
<rect x="467.9" y="12.8" width="183.1" height="141.7" fill="#fff" stroke="#a0a0a0" stroke-width="1"/>
<path d="M528.7 154.5 v-1.8 M528.7 12.8 v1.8 M589.8 154.5 v-1.8 M589.8 12.8 v1.8 M467.9 83.6 h1.8 M651 83.6 h-1.8" fill="none" stroke="#a0a0a0" stroke-width="1"/>
<text class="tk" font-size="10.8" x="467.9" y="169.24" text-anchor="middle">0</text>
<text class="tk" font-size="10.8" x="528.7" y="169.24" text-anchor="middle">10</text>
<text class="tk" font-size="10.8" x="589.8" y="169.24" text-anchor="middle">20</text>
<text class="tk" font-size="10.8" x="651" y="169.24" text-anchor="middle">30</text>
<text class="tk" font-size="10.8" x="464.4" y="17.34" text-anchor="end">5</text>
<text class="tk" font-size="10.8" x="464.4" y="88.14" text-anchor="end">0</text>
<text class="tk" font-size="10.8" x="464.4" y="159.04" text-anchor="end">-5</text>
<path d="M467.9 49.9 H651" fill="none" stroke="#333" stroke-width="1.55" stroke-dasharray="4.7 3.2"/>
<path d="M467.9 73 H651" fill="none" stroke="#444" stroke-width="1.5"/>
<path d="M467.9 95.7 H651" fill="none" stroke="#333" stroke-width="1.55" stroke-dasharray="4.7 3.2"/>
<circle cx="470.3" cy="71.5" r="1.65" fill="none" stroke="#111" stroke-width="1.25"/>
<circle cx="472.4" cy="61.8" r="1.65" fill="none" stroke="#111" stroke-width="1.25"/>
<circle cx="498.9" cy="69.9" r="1.65" fill="none" stroke="#111" stroke-width="1.25"/>
<circle cx="520.4" cy="58.2" r="1.65" fill="none" stroke="#111" stroke-width="1.25"/>
<circle cx="527.9" cy="91.2" r="1.65" fill="none" stroke="#111" stroke-width="1.25"/>
<circle cx="545.8" cy="77.8" r="1.65" fill="none" stroke="#111" stroke-width="1.25"/>
<circle cx="569.7" cy="89" r="1.65" fill="none" stroke="#111" stroke-width="1.25"/>
<circle cx="582.5" cy="86.5" r="1.65" fill="none" stroke="#111" stroke-width="1.25"/>
<circle cx="600" cy="65.8" r="1.65" fill="none" stroke="#111" stroke-width="1.25"/>
<circle cx="638" cy="61.3" r="1.65" fill="none" stroke="#111" stroke-width="1.25"/>
<circle cx="647" cy="67.9" r="1.65" fill="none" stroke="#111" stroke-width="1.25"/>
<text class="ann" x="523.4" y="132" textLength="65.2" lengthAdjust="spacingAndGlyphs" text-anchor="start">Bias = 0.73%</text>
<text class="ann" x="523.4" y="147.7" textLength="121" lengthAdjust="spacingAndGlyphs" text-anchor="start">95%CI [-0.88%,&#160; 2.34%]</text>
<text class="pl" x="429.2" y="36.3" font-size="27" textLength="18.8" lengthAdjust="spacingAndGlyphs">A</text>
</g>
<g id="pC">
<rect x="718.9" y="12.8" width="167.4" height="143" fill="#fff" stroke="#a0a0a0" stroke-width="1"/>
<path d="M751.7 155.8 v-1.8 M751.7 12.8 v1.8 M819.5 155.8 v-1.8 M819.5 12.8 v1.8 M718.9 48.55 h1.8 M886.3 48.55 h-1.8 M718.9 84.3 h1.8 M886.3 84.3 h-1.8 M718.9 120.05 h1.8 M886.3 120.05 h-1.8" fill="none" stroke="#a0a0a0" stroke-width="1"/>
<text class="tk" font-size="12" x="751.7" y="173.08" text-anchor="middle">500</text>
<text class="tk" font-size="12" x="819.5" y="173.08" text-anchor="middle">1000</text>
<text class="tk" font-size="12" x="886.3" y="173.08" text-anchor="middle">1500</text>
<text class="tk" font-size="12" x="714.5" y="17.18" text-anchor="end">20</text>
<text class="tk" font-size="12" x="714.5" y="52.93" text-anchor="end">10</text>
<text class="tk" font-size="12" x="714.5" y="88.68" text-anchor="end">0</text>
<text class="tk" font-size="12" x="714.5" y="124.43" text-anchor="end">-10</text>
<text class="tk" font-size="12" x="714.5" y="160.18" text-anchor="end">-20</text>
<path d="M718.9 57.7 H886.3" fill="none" stroke="#333" stroke-width="1.35" stroke-dasharray="4.7 3.2"/>
<path d="M718.9 68.9 H886.3" fill="none" stroke="#333" stroke-width="1.5"/>
<path d="M718.9 80.4 H886.3" fill="none" stroke="#333" stroke-width="1.35" stroke-dasharray="4.7 3.2"/>
<circle cx="720" cy="61.7" r="1.65" fill="none" stroke="#111" stroke-width="1.25"/>
<circle cx="724" cy="64.2" r="1.65" fill="none" stroke="#111" stroke-width="1.25"/>
<circle cx="734.8" cy="68.5" r="1.65" fill="none" stroke="#111" stroke-width="1.25"/>
<circle cx="742.5" cy="68.3" r="1.65" fill="none" stroke="#111" stroke-width="1.25"/>
<circle cx="743.8" cy="68.9" r="1.65" fill="none" stroke="#111" stroke-width="1.25"/>
<circle cx="744.9" cy="65.8" r="1.65" fill="none" stroke="#111" stroke-width="1.25"/>
<circle cx="750.3" cy="64.7" r="1.65" fill="none" stroke="#111" stroke-width="1.25"/>
<circle cx="756.6" cy="73.4" r="1.65" fill="none" stroke="#111" stroke-width="1.25"/>
<circle cx="808.5" cy="83.3" r="1.65" fill="none" stroke="#111" stroke-width="1.25"/>
<circle cx="818.7" cy="71.9" r="1.65" fill="none" stroke="#111" stroke-width="1.25"/>
<circle cx="880.2" cy="68.9" r="1.65" fill="none" stroke="#111" stroke-width="1.25"/>
<text class="ann" x="758.2" y="130" textLength="58.7" lengthAdjust="spacingAndGlyphs" text-anchor="start">Bias = 4.3%</text>
<text class="ann" x="758.2" y="145.7" textLength="113.7" lengthAdjust="spacingAndGlyphs" text-anchor="start">95%CI [1.14%, 7.46%]</text>
<text class="pl" x="675.2" y="36.3" font-size="27" textLength="16.1" lengthAdjust="spacingAndGlyphs">C</text>
</g>
<g id="pE">
<rect x="951.5" y="12.5" width="183.4" height="142" fill="#fff" stroke="#a0a0a0" stroke-width="1"/>
<path d="M987.9 154.5 v-1.8 M987.9 12.5 v1.8 M1061.4 154.5 v-1.8 M1061.4 12.5 v1.8 M951.5 47.9 h1.8 M1134.9 47.9 h-1.8 M951.5 83.5 h1.8 M1134.9 83.5 h-1.8 M951.5 119 h1.8 M1134.9 119 h-1.8" fill="none" stroke="#a0a0a0" stroke-width="1"/>
<text class="tk" font-size="10.9" x="987.9" y="169.68" text-anchor="middle">20</text>
<text class="tk" font-size="10.9" x="1061.4" y="169.68" text-anchor="middle">40</text>
<text class="tk" font-size="10.9" x="1134.9" y="169.68" text-anchor="middle">60</text>
<text class="tk" font-size="10.9" x="947.9" y="16.88" text-anchor="end">20</text>
<text class="tk" font-size="10.9" x="947.9" y="52.38" text-anchor="end">10</text>
<text class="tk" font-size="10.9" x="947.9" y="87.98" text-anchor="end">0</text>
<text class="tk" font-size="10.9" x="947.9" y="123.48" text-anchor="end">-10</text>
<text class="tk" font-size="10.9" x="947.9" y="158.98" text-anchor="end">-20</text>
<path d="M951.5 76 H1134.9" fill="none" stroke="#333" stroke-width="1.55" stroke-dasharray="4.7 3.2"/>
<path d="M951.5 97.9 H1134.9" fill="none" stroke="#444" stroke-width="1.5"/>
<path d="M951.5 119.2 H1134.9" fill="none" stroke="#333" stroke-width="1.55" stroke-dasharray="4.7 3.2"/>
<circle cx="965.2" cy="85.4" r="1.65" fill="none" stroke="#111" stroke-width="1.25"/>
<circle cx="985.7" cy="76.9" r="1.65" fill="none" stroke="#111" stroke-width="1.25"/>
<circle cx="1024.3" cy="89.4" r="1.65" fill="none" stroke="#111" stroke-width="1.25"/>
<circle cx="1110" cy="89.9" r="1.65" fill="none" stroke="#111" stroke-width="1.25"/>
<circle cx="1011.3" cy="103.5" r="1.65" fill="none" stroke="#111" stroke-width="1.25"/>
<circle cx="1040.5" cy="105.7" r="1.65" fill="none" stroke="#111" stroke-width="1.25"/>
<circle cx="1066.1" cy="99.4" r="1.65" fill="none" stroke="#111" stroke-width="1.25"/>
<circle cx="1084.8" cy="100.3" r="1.65" fill="none" stroke="#111" stroke-width="1.25"/>
<circle cx="1103.2" cy="100.1" r="1.65" fill="none" stroke="#111" stroke-width="1.25"/>
<circle cx="1085" cy="114.3" r="1.65" fill="none" stroke="#111" stroke-width="1.25"/>
<circle cx="1129" cy="109.3" r="1.65" fill="none" stroke="#111" stroke-width="1.25"/>
<text class="ann" x="1011.3" y="132.7" textLength="56.9" lengthAdjust="spacingAndGlyphs" text-anchor="start">Bias =-4.07</text>
<text class="ann" x="1011.3" y="148.9" textLength="98.9" lengthAdjust="spacingAndGlyphs" text-anchor="start">95%CI [-9.27, 1.08]</text>
<text class="pl" x="915.4" y="36.2" font-size="27" textLength="14.2" lengthAdjust="spacingAndGlyphs">E</text>
</g>
<g id="pB">
<rect x="474.7" y="200.3" width="168.4" height="141.6" fill="#fff" stroke="#a0a0a0" stroke-width="1"/>
<path d="M479.6 341.9 v-1.8 M479.6 200.3 v1.8 M532.4 341.9 v-1.8 M532.4 200.3 v1.8 M585.6 341.9 v-1.8 M585.6 200.3 v1.8 M639.1 341.9 v-1.8 M639.1 200.3 v1.8 M474.7 337.5 h1.8 M643.1 337.5 h-1.8 M474.7 293.2 h1.8 M643.1 293.2 h-1.8 M474.7 249 h1.8 M643.1 249 h-1.8 M474.7 204.8 h1.8 M643.1 204.8 h-1.8" fill="none" stroke="#a0a0a0" stroke-width="1"/>
<text class="tk" font-size="12.7" x="479.6" y="359.64" text-anchor="middle">0</text>
<text class="tk" font-size="12.7" x="532.4" y="359.64" text-anchor="middle">10</text>
<text class="tk" font-size="12.7" x="585.6" y="359.64" text-anchor="middle">20</text>
<text class="tk" font-size="12.7" x="639.1" y="359.64" text-anchor="middle">30</text>
<text class="tk" font-size="12.7" x="470.8" y="342.14" text-anchor="end">0</text>
<text class="tk" font-size="12.7" x="470.8" y="297.84" text-anchor="end">10</text>
<text class="tk" font-size="12.7" x="470.8" y="253.64" text-anchor="end">20</text>
<text class="tk" font-size="12.7" x="470.8" y="209.44" text-anchor="end">30</text>
<path d="M475 338.4 L638.8 200.3" fill="none" stroke="#111" stroke-width="1.5"/>
<path d="M479.8 327.3 V339.7 M478.2 327.3 h3.2 M478.2 339.7 h3.2 M479.3 331.5 V341 M477.7 331.5 h3.2 M477.7 341 h3.2 M504.5 308.7 V317.9 M502.9 308.7 h3.2 M502.9 317.9 h3.2 M521.6 290.7 V300.3 M520 290.7 h3.2 M520 300.3 h3.2 M533.5 291.3 V299.9 M531.9 291.3 h3.2 M531.9 299.9 h3.2 M547 275.6 V284.6 M545.4 275.6 h3.2 M545.4 284.6 h3.2 M569.2 260.3 V269.3 M567.6 260.3 h3.2 M567.6 269.3 h3.2 M579.8 250.8 V259.2 M578.2 250.8 h3.2 M578.2 259.2 h3.2 M591.2 234.4 V243.9 M589.6 234.4 h3.2 M589.6 243.9 h3.2 M622.9 206.8 V214.7 M621.3 206.8 h3.2 M621.3 214.7 h3.2 M631.7 200.7 V209.7 M630.1 200.7 h3.2 M630.1 209.7 h3.2" fill="none" stroke="#1a1a1a" stroke-width="1.2"/>
<text class="ann" x="570.6" y="306.6" textLength="52.8" lengthAdjust="spacingAndGlyphs" text-anchor="start">R<tspan font-size="8.4" dy="-4.4">2</tspan><tspan dy="4.4">&#8203;</tspan> = 0.993</text>
<text class="ann" x="575.5" y="322.4" textLength="42.7" lengthAdjust="spacingAndGlyphs" text-anchor="start">p&lt;.0001</text>
<text class="ann" x="555.5" y="338.1" textLength="82.9" lengthAdjust="spacingAndGlyphs" text-anchor="start">y=0.996x+0.788</text>
<text class="pl" x="430.4" y="233.9" font-size="27.4" textLength="16.7" lengthAdjust="spacingAndGlyphs">B</text>
</g>
<g id="pD">
<rect x="717.6" y="199.4" width="167.1" height="142.9" fill="#fff" stroke="#a0a0a0" stroke-width="1"/>
<path d="M750.3 342.3 v-1.8 M750.3 199.4 v1.8 M817.3 342.3 v-1.8 M817.3 199.4 v1.8 M717.6 315.1 h1.8 M884.7 315.1 h-1.8 M717.6 259.9 h1.8 M884.7 259.9 h-1.8 M717.6 205.1 h1.8 M884.7 205.1 h-1.8" fill="none" stroke="#a0a0a0" stroke-width="1"/>
<text class="tk" font-size="12.1" x="750.3" y="359.82" text-anchor="middle">500</text>
<text class="tk" font-size="12.1" x="817.3" y="359.82" text-anchor="middle">1000</text>
<text class="tk" font-size="12.1" x="884.7" y="359.82" text-anchor="middle">1500</text>
<text class="tk" font-size="12.1" x="713.3" y="320.22" text-anchor="end">500</text>
<text class="tk" font-size="12.1" x="713.3" y="265.02" text-anchor="end">1000</text>
<text class="tk" font-size="12.1" x="713.3" y="210.22" text-anchor="end">1500</text>
<path d="M717.6 342.3 L884.7 198.6" fill="none" stroke="#111" stroke-width="1.5"/>
<path d="M874.2 203.4 V209.3 M872.6 203.4 h3.2 M872.6 209.3 h3.2 M814.6 256.5 V260.7 M813 256.5 h3.2 M813 260.7 h3.2 M806.7 266.6 V271.1 M805.1 266.6 h3.2 M805.1 271.1 h3.2 M721.1 338.09 V340.49 M719.5 338.09 h3.2 M719.5 340.49 h3.2 M731.9 328.8 V331.2 M730.3 328.8 h3.2 M730.3 331.2 h3.2 M740.2 321.66 V324.06 M738.6 321.66 h3.2 M738.6 324.06 h3.2 M742 320.12 V322.52 M740.4 320.12 h3.2 M740.4 322.52 h3.2 M747.2 315.65 V318.05 M745.6 315.65 h3.2 M745.6 318.05 h3.2 M753.3 310.4 V312.8 M751.7 310.4 h3.2 M751.7 312.8 h3.2" fill="none" stroke="#1a1a1a" stroke-width="1.2"/>
<text class="ann" x="816.2" y="306.6" textLength="53.2" lengthAdjust="spacingAndGlyphs" text-anchor="start">R<tspan font-size="8.4" dy="-4.4">2</tspan><tspan dy="4.4">&#8203;</tspan> = 0.999</text>
<text class="ann" x="821.3" y="322.5" textLength="42.7" lengthAdjust="spacingAndGlyphs" text-anchor="start">p&lt;.0001</text>
<text class="ann" x="804.9" y="338.1" textLength="74.2" lengthAdjust="spacingAndGlyphs" text-anchor="start">y=0.971x-5.02</text>
<text class="pl" x="660.5" y="233.8" font-size="27.4" textLength="18.6" lengthAdjust="spacingAndGlyphs">D</text>
</g>
<g id="pF">
<rect x="961.9" y="200.3" width="162.9" height="143.2" fill="#fff" stroke="#a0a0a0" stroke-width="1"/>
<path d="M1002.5 343.5 v-1.8 M1002.5 200.3 v1.8 M1043.4 343.5 v-1.8 M1043.4 200.3 v1.8 M1084.3 343.5 v-1.8 M1084.3 200.3 v1.8 M961.9 307.7 h1.8 M1124.8 307.7 h-1.8 M961.9 271.9 h1.8 M1124.8 271.9 h-1.8 M961.9 236.1 h1.8 M1124.8 236.1 h-1.8" fill="none" stroke="#a0a0a0" stroke-width="1"/>
<text class="tk" font-size="12.7" x="961.9" y="360.04" text-anchor="middle">0</text>
<text class="tk" font-size="12.7" x="1002.5" y="360.04" text-anchor="middle">20</text>
<text class="tk" font-size="12.7" x="1043.4" y="360.04" text-anchor="middle">40</text>
<text class="tk" font-size="12.7" x="1084.3" y="360.04" text-anchor="middle">60</text>
<text class="tk" font-size="12.7" x="1124.8" y="360.04" text-anchor="middle">80</text>
<text class="tk" font-size="12.7" x="958.5" y="348.14" text-anchor="end">0</text>
<text class="tk" font-size="12.7" x="958.5" y="312.34" text-anchor="end">20</text>
<text class="tk" font-size="12.7" x="958.5" y="276.54" text-anchor="end">40</text>
<text class="tk" font-size="12.7" x="958.5" y="240.74" text-anchor="end">60</text>
<text class="tk" font-size="12.7" x="958.5" y="204.94" text-anchor="end">80</text>
<path d="M966 343.5 L1124.8 212.4" fill="none" stroke="#111" stroke-width="1.4"/>
<path d="M1088.4 237.8 V253.5 M1087 237.8 h2.8 M1087 253.5 h2.8 M1082.3 245.2 H1094.7 M1082.3 244 v2.4 M1094.7 244 v2.4 M1071.5 244.6 V266.3 M1070.1 244.6 h2.8 M1070.1 266.3 h2.8 M1058.7 255.3 H1084.6 M1058.7 254.1 v2.4 M1084.6 254.1 v2.4 M1072.2 245 V255 M1070.8 245 h2.8 M1070.8 255 h2.8 M1067 249.9 H1077.1 M1067 248.7 v2.4 M1077.1 248.7 v2.4 M1061 261.4 V268.1 M1059.6 261.4 h2.8 M1059.6 268.1 h2.8 M1055.3 264.6 H1067 M1055.3 263.4 v2.4 M1067 263.4 v2.4 M1065.5 264.8 V272.6 M1064.1 264.8 h2.8 M1064.1 272.6 h2.8 M1062.5 268.8 H1068.2 M1062.5 267.6 v2.4 M1068.2 267.6 v2.4 M1050.6 270.4 V277.1 M1049.2 270.4 h2.8 M1049.2 277.1 h2.8 M1043.4 273.6 H1057.4 M1043.4 272.4 v2.4 M1057.4 272.4 v2.4 M1038.5 283 V293.1 M1037.1 283 h2.8 M1037.1 293.1 h2.8 M1029.5 288 H1047.5 M1029.5 286.8 v2.4 M1047.5 286.8 v2.4 M1025.5 287.3 V294.7 M1024.1 287.3 h2.8 M1024.1 294.7 h2.8 M1021.6 291.3 H1028.8 M1021.6 290.1 v2.4 M1028.8 290.1 v2.4 M1021.4 297 V306 M1020 297 h2.8 M1020 306 h2.8 M1016.5 301.5 H1026.6 M1016.5 300.3 v2.4 M1026.6 300.3 v2.4 M999.6 297.6 V317.2 M998.2 297.6 h2.8 M998.2 317.2 h2.8 M987.3 307.1 H1012 M987.3 305.9 v2.4 M1012 305.9 v2.4 M990.6 311.1 V328 M989.2 311.1 h2.8 M989.2 328 h2.8 M979.4 319.4 H1001.9 M979.4 318.2 v2.4 M1001.9 318.2 v2.4" fill="none" stroke="#1a1a1a" stroke-width="1.15"/>
<text class="ann" x="1055.3" y="306.6" textLength="52.2" lengthAdjust="spacingAndGlyphs" text-anchor="start">R<tspan font-size="8.4" dy="-4.4">2</tspan><tspan dy="4.4">&#8203;</tspan> = 0.949</text>
<text class="ann" x="1060.7" y="322.5" textLength="41.2" lengthAdjust="spacingAndGlyphs" text-anchor="start">p&lt;.0001</text>
<text class="ann" x="1041.2" y="338.1" textLength="80.9" lengthAdjust="spacingAndGlyphs" text-anchor="start">y=0.939x-1.867</text>
<text class="pl" x="901.7" y="233.6" font-size="27.2" textLength="12.9" lengthAdjust="spacingAndGlyphs">F</text>
</g>
<g>
<text class="lat" x="511" y="188" font-size="16.9" textLength="15.54" lengthAdjust="spacingAndGlyphs">FF</text>
<text class="cjk" x="526.54" y="188.9" font-size="17.03" textLength="34.68" lengthAdjust="spacingAndGlyphs">均值</text>
<text class="lat" x="565.04" y="188" font-size="16.9" textLength="22.36" lengthAdjust="spacingAndGlyphs">(%)</text>
</g>
<g>
<text class="lat" x="762" y="188" font-size="16.9" textLength="8.34" lengthAdjust="spacingAndGlyphs">T</text>
<text class="lat" x="770.34" y="191.2" font-size="10.65" textLength="5.38" lengthAdjust="spacingAndGlyphs">1</text>
<text class="cjk" x="779.58" y="188.9" font-size="17.03" textLength="35.07" lengthAdjust="spacingAndGlyphs">均值</text>
<text class="lat" x="814.66" y="188" font-size="16.9" textLength="30.74" lengthAdjust="spacingAndGlyphs">(ms)</text>
</g>
<g>
<text class="lat" x="992.9" y="188" font-size="16.9" textLength="9.4" lengthAdjust="spacingAndGlyphs">R</text>
<text class="lat" x="1002.3" y="191.2" font-size="10.65" textLength="5.44" lengthAdjust="spacingAndGlyphs">2</text>
<text class="lat" x="1007.74" y="182.6" font-size="11.15" textLength="5.69" lengthAdjust="spacingAndGlyphs">*</text>
<text class="cjk" x="1013.43" y="188.9" font-size="17.03" textLength="35.48" lengthAdjust="spacingAndGlyphs">均值</text>
<text class="lat" x="1048.91" y="188" font-size="16.9" textLength="12.02" lengthAdjust="spacingAndGlyphs">(s</text>
<text class="lat" x="1060.93" y="182.4" font-size="10.65" textLength="8.73" lengthAdjust="spacingAndGlyphs">-1</text>
<text class="lat" x="1069.65" y="188" font-size="16.9" textLength="5.25" lengthAdjust="spacingAndGlyphs">)</text>
</g>
<g>
<text class="lat" x="507.4" y="385.9" font-size="16.9" textLength="15.52" lengthAdjust="spacingAndGlyphs">FF</text>
<text class="cjk" x="522.92" y="385.9" font-size="17.03" textLength="51.95" lengthAdjust="spacingAndGlyphs">参考值</text>
<text class="lat" x="574.87" y="385.9" font-size="16.9" textLength="22.33" lengthAdjust="spacingAndGlyphs">(%)</text>
</g>
<g>
<text class="lat" x="757.8" y="385.9" font-size="16.9" textLength="8.41" lengthAdjust="spacingAndGlyphs">T</text>
<text class="lat" x="766.21" y="389.1" font-size="10.65" textLength="5.43" lengthAdjust="spacingAndGlyphs">1</text>
<text class="cjk" x="775.54" y="385.9" font-size="17.03" textLength="53.06" lengthAdjust="spacingAndGlyphs">参考值</text>
<text class="lat" x="828.6" y="385.9" font-size="16.9" textLength="31" lengthAdjust="spacingAndGlyphs">(ms)</text>
</g>
<g>
<text class="lat" x="984.6" y="385.9" font-size="16.9" textLength="9.4" lengthAdjust="spacingAndGlyphs">R</text>
<text class="lat" x="994" y="389.1" font-size="10.65" textLength="5.44" lengthAdjust="spacingAndGlyphs">2</text>
<text class="lat" x="999.44" y="380.5" font-size="11.15" textLength="5.69" lengthAdjust="spacingAndGlyphs">*</text>
<text class="cjk" x="1005.13" y="385.9" font-size="17.03" textLength="53.19" lengthAdjust="spacingAndGlyphs">参考值</text>
<text class="lat" x="1058.32" y="385.9" font-size="16.9" textLength="12.01" lengthAdjust="spacingAndGlyphs">(s</text>
<text class="lat" x="1070.33" y="380.3" font-size="10.65" textLength="8.72" lengthAdjust="spacingAndGlyphs">-1</text>
<text class="lat" x="1079.06" y="385.9" font-size="16.9" textLength="5.24" lengthAdjust="spacingAndGlyphs">)</text>
</g>
<g transform="translate(445.7,88.8) rotate(-90)">
<text class="lat" x="-36" y="0" font-size="16.9" textLength="15.41" lengthAdjust="spacingAndGlyphs">FF</text>
<text class="cjk" x="-20.59" y="0" font-size="17.03" textLength="34.41" lengthAdjust="spacingAndGlyphs">偏差</text>
<text class="lat" x="13.82" y="0" font-size="16.9" textLength="22.18" lengthAdjust="spacingAndGlyphs">(%)</text>
</g>
<g transform="translate(690.5,90) rotate(-90)">
<text class="lat" x="-36" y="0" font-size="16.9" textLength="8.41" lengthAdjust="spacingAndGlyphs">T</text>
<text class="lat" x="-27.59" y="3.2" font-size="10.65" textLength="5.43" lengthAdjust="spacingAndGlyphs">1</text>
<text class="cjk" x="-22.17" y="0" font-size="17.03" textLength="35.37" lengthAdjust="spacingAndGlyphs">偏差</text>
<text class="lat" x="13.2" y="0" font-size="16.9" textLength="22.8" lengthAdjust="spacingAndGlyphs">(%)</text>
</g>
<g transform="translate(927.7,91.2) rotate(-90)">
<text class="lat" x="-42.7" y="0" font-size="16.9" textLength="9.79" lengthAdjust="spacingAndGlyphs">R</text>
<text class="lat" x="-32.91" y="3.2" font-size="10.65" textLength="5.67" lengthAdjust="spacingAndGlyphs">2</text>
<text class="lat" x="-27.24" y="-5.4" font-size="11.15" textLength="5.93" lengthAdjust="spacingAndGlyphs">*</text>
<text class="cjk" x="-21.31" y="0" font-size="17.03" textLength="36.95" lengthAdjust="spacingAndGlyphs">偏差</text>
<text class="lat" x="15.63" y="0" font-size="16.9" textLength="12.51" lengthAdjust="spacingAndGlyphs">(s</text>
<text class="lat" x="28.15" y="-5.6" font-size="10.65" textLength="9.09" lengthAdjust="spacingAndGlyphs">-1</text>
<text class="lat" x="37.24" y="0" font-size="16.9" textLength="5.46" lengthAdjust="spacingAndGlyphs">)</text>
</g>
<g transform="translate(446.3,291.5) rotate(-90)">
<text class="cjk" x="-47" y="0" font-size="17.03" textLength="52.16" lengthAdjust="spacingAndGlyphs">本方法</text>
<text class="lat" x="9" y="0" font-size="16.9" textLength="38" lengthAdjust="spacingAndGlyphs">FF(%)</text>
</g>
<g transform="translate(675.8,289.6) rotate(-90)">
<text class="cjk" x="-50.35" y="0" font-size="17.03" textLength="52.49" lengthAdjust="spacingAndGlyphs">本方法</text>
<text class="lat" x="6" y="0" font-size="16.9" textLength="8.32" lengthAdjust="spacingAndGlyphs">T</text>
<text class="lat" x="14.31" y="3.2" font-size="10.65" textLength="5.37" lengthAdjust="spacingAndGlyphs">1</text>
<text class="lat" x="19.68" y="0" font-size="16.9" textLength="30.67" lengthAdjust="spacingAndGlyphs">(ms)</text>
</g>
<g transform="translate(926.6,287.4) rotate(-90)">
<text class="cjk" x="-52.1" y="0" font-size="17.03" textLength="53.5" lengthAdjust="spacingAndGlyphs">本方法</text>
<text class="lat" x="1.4" y="0" font-size="16.9" textLength="9.45" lengthAdjust="spacingAndGlyphs">R</text>
<text class="lat" x="10.85" y="3.2" font-size="10.65" textLength="5.47" lengthAdjust="spacingAndGlyphs">2</text>
<text class="lat" x="16.32" y="-5.4" font-size="11.15" textLength="5.72" lengthAdjust="spacingAndGlyphs">*</text>
<text class="lat" x="25.97" y="0" font-size="16.9" textLength="12.08" lengthAdjust="spacingAndGlyphs">(s</text>
<text class="lat" x="38.05" y="-5.6" font-size="10.65" textLength="8.77" lengthAdjust="spacingAndGlyphs">-1</text>
<text class="lat" x="46.83" y="0" font-size="16.9" textLength="5.27" lengthAdjust="spacingAndGlyphs">)</text>
</g>
<text class="big" x="462.6" y="425.6" font-size="24" textLength="57.2" lengthAdjust="spacingAndGlyphs">PDFF</text>
<text class="bigc" x="517.6" y="426.3" font-size="22.8" textLength="45.4" lengthAdjust="spacingAndGlyphs">误差</text>
<text class="big" x="565" y="425.6" font-size="24" textLength="65.4" lengthAdjust="spacingAndGlyphs">&lt;0.8%</text>
<text class="big" x="724.6" y="425.6" font-size="24" textLength="44.9" lengthAdjust="spacingAndGlyphs">T1w</text>
<text class="bigc" x="767.9" y="426.3" font-size="22.8" textLength="45.4" lengthAdjust="spacingAndGlyphs">误差</text>
<text class="big" x="815.9" y="425.6" font-size="24" textLength="65.4" lengthAdjust="spacingAndGlyphs">&lt;4.3%</text>
<text class="big" x="944" y="425.6" font-size="24" textLength="38.6" lengthAdjust="spacingAndGlyphs">R2*</text>
<text class="bigc" x="981.1" y="426.3" font-size="22.8" textLength="67.6" lengthAdjust="spacingAndGlyphs">误差：</text>
<text class="big" x="1049.4" y="425.6" font-size="24" textLength="55.2" lengthAdjust="spacingAndGlyphs">4.07s</text>
<text class="big" x="1106.2" y="419" font-size="16.2" textLength="11.6" lengthAdjust="spacingAndGlyphs">-1</text>
</svg>
</body></html>
